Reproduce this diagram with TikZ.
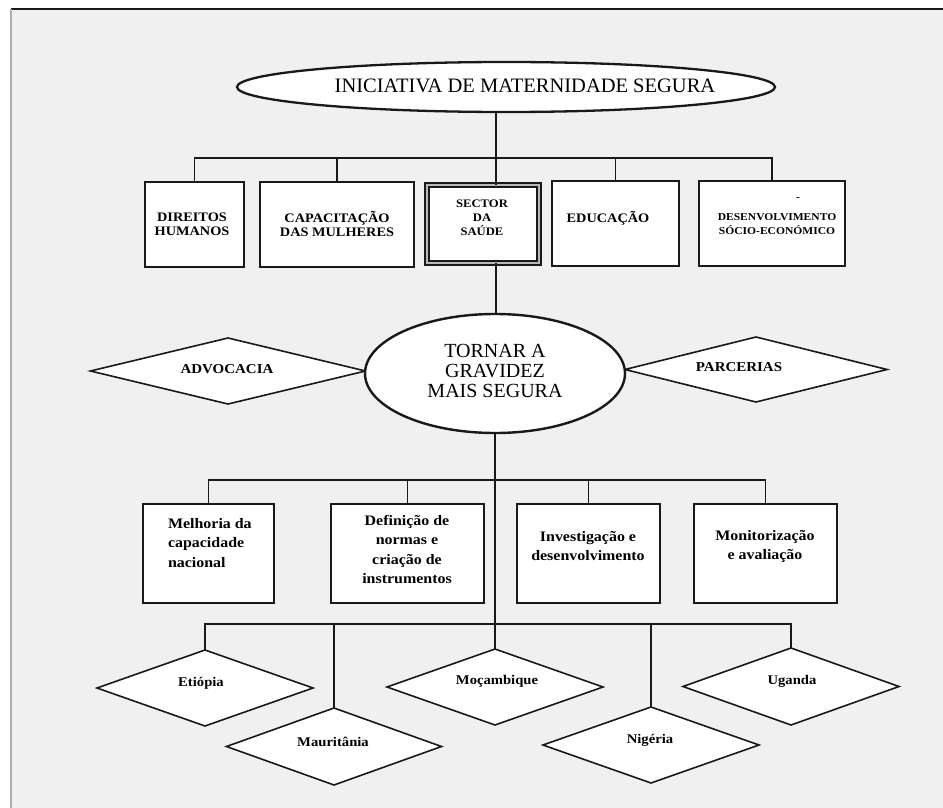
\documentclass[tikz,border=0pt]{standalone}
\usepackage{fontspec}
\setmainfont{Liberation Serif}
\newfontfamily\labfont[FakeStretch=1.1]{Liberation Serif}
\usetikzlibrary{shapes.geometric}
\definecolor{paper}{gray}{0.94}
\definecolor{ink}{gray}{0.1}
\begin{document}
\begin{tikzpicture}[x=1pt,y=-1pt,
  every node/.style={inner sep=0pt, outer sep=0pt},
  box/.style={draw=ink, fill=white, line width=2pt, rectangle},
  ell/.style={draw=ink, fill=white, line width=2.3pt, ellipse},
  diam/.style={draw=ink, fill=white, line width=1.6pt, diamond, aspect=2.8},
  conn/.style={draw=ink, line width=1.6pt},
  ttl/.style={font=\fontsize{20.5}{20}\selectfont},
  midt/.style={font=\fontsize{20}{20}\selectfont, align=center},
  capt/.style={font=\labfont\bfseries\fontsize{13}{14}\selectfont, align=center},
  smallcapt/.style={font=\labfont\bfseries\fontsize{10.5}{14}\selectfont, align=center},
  sectt/.style={font=\labfont\bfseries\fontsize{11.5}{14}\selectfont, align=center},
  lowt/.style={font=\labfont\bfseries\fontsize{14.5}{19.5}\selectfont, align=center},
  dgt/.style={font=\labfont\bfseries\fontsize{13.6}{14}\selectfont},
  ctyt/.style={font=\labfont\bfseries\fontsize{13.3}{14}\selectfont}]
\useasboundingbox (0,0) rectangle (943,808);
\fill[white] (0,0) rectangle (943,808);
\fill[paper] (11,9) rectangle (943,808);
\draw[ink, line width=1.8pt] (11,9) -- (943,9);
\draw[gray!65, line width=1.6pt] (11,9) -- (11,808);

% coordinates of buses
\coordinate (b1) at (496,158);
\coordinate (b2) at (495,480);
\coordinate (b3) at (495,624);

% top ellipse
\node[ell, minimum width=538pt, minimum height=50pt] (title) at (506,87) {};
\node[ttl] (title-t) at (525,86) {INICIATIVA DE MATERNIDADE SEGURA};

% top row boxes
\node[box, minimum width=99pt, minimum height=85pt] (dh) at (194.5,224.5) {};
\node[capt] (dh-t) at (192,224) {DIREITOS\\HUMANOS};
\node[box, minimum width=154pt, minimum height=85pt] (cap) at (337,224.5) {};
\node[capt] (cap-t) at (337,224) {CAPACITAÇÃO\\DAS MULHERES};
\node[box, minimum width=112pt, minimum height=78pt, line width=1.4pt, draw=ink,
      double=gray!55, double distance=2.6pt] (sec) at (483,224) {};
\node[sectt] (sec-t) at (482,218) {SECTOR\\DA\\SAÚDE};
\node[box, minimum width=127pt, minimum height=85pt] (edu) at (615.5,223.5) {};
\node[capt] (edu-t) at (608,218) {EDUCAÇÃO};
\node[box, minimum width=146pt, minimum height=85pt] (des) at (772,223.5) {};
\node[smallcapt] (des-t) at (777,224) {DESENVOLVIMENTO\\SÓCIO-ECONÓMICO};
\node[smallcapt] (des-d) at (798,199) {-};

% middle ellipse and diamonds
\node[diam, minimum width=275pt, minimum height=66pt] (adv) at (228,371) {};
\node[dgt] (adv-t) at (227,369) {ADVOCACIA};
\node[diam, minimum width=262pt, minimum height=65pt] (par) at (756,369.5) {};
\node[dgt] (par-t) at (739,367) {PARCERIAS};
\node[ell, line width=2.4pt, minimum width=260pt, minimum height=119pt] (mid) at (495,373.5) {};
\node[midt] (mid-t) at (495,370.5) {TORNAR A\\GRAVIDEZ\\MAIS SEGURA};

% second row boxes
\node[box, minimum width=131pt, minimum height=99pt] (mel) at (208.5,553) {};
\node[lowt, align=left, anchor=west] (mel-t) at (168,543) {Melhoria da\\capacidade\\nacional};
\node[box, minimum width=153pt, minimum height=99pt] (def) at (407.5,553) {};
\node[lowt] (def-t) at (407,549.5) {Definição de\\normas e\\criação de\\instrumentos};
\node[box, minimum width=143pt, minimum height=99pt] (inv) at (588.5,553) {};
\node[lowt] (inv-t) at (588,546) {Investigação e\\desenvolvimento};
\node[box, minimum width=143pt, minimum height=99pt] (mon) at (765.5,553) {};
\node[lowt] (mon-t) at (765,546.5) {Monitorização\\e avaliação};

% country diamonds
\node[diam, minimum width=216pt, minimum height=76pt] (eti) at (205,688) {};
\node[ctyt] (eti-t) at (201,683) {Etiópia};
\node[diam, minimum width=215pt, minimum height=77pt] (mau) at (334,746.5) {};
\node[ctyt] (mau-t) at (333,742) {Mauritânia};
\node[diam, minimum width=216pt, minimum height=76pt] (moc) at (495,687) {};
\node[ctyt] (moc-t) at (497,681) {Moçambique};
\node[diam, minimum width=216pt, minimum height=76pt] (nig) at (651,745) {};
\node[ctyt] (nig-t) at (650,740) {Nigéria};
\node[diam, minimum width=216pt, minimum height=77pt] (uga) at (791,686.5) {};
\node[ctyt] (uga-t) at (792,681) {Uganda};

% connectors: top
\draw[conn] (b1 |- title.south) -- (b1);
\draw[conn] (dh.north) |- (b1);
\draw[conn] (cap.north) |- (b1);
\draw[conn] (edu.north) |- (b1);
\draw[conn] (des.north) |- (b1);
\draw[conn] (b1) -- (b1 |- sec.north);
\draw[conn] (b1 |- sec.south) -- (b1 |- mid.north);

% connectors: lower
\draw[conn] (mid.south) -- (moc.north);
\draw[conn] (mel.north) |- (b2);
\draw[conn] (def.north) |- (b2);
\draw[conn] (inv.north) |- (b2);
\draw[conn] (mon.north) |- (b2);
\draw[conn] (eti.north) |- (b3);
\draw[conn] (mau.north) |- (b3);
\draw[conn] (nig.north) |- (b3);
\draw[conn] (uga.north) |- (b3);
\end{tikzpicture}
\end{document}
